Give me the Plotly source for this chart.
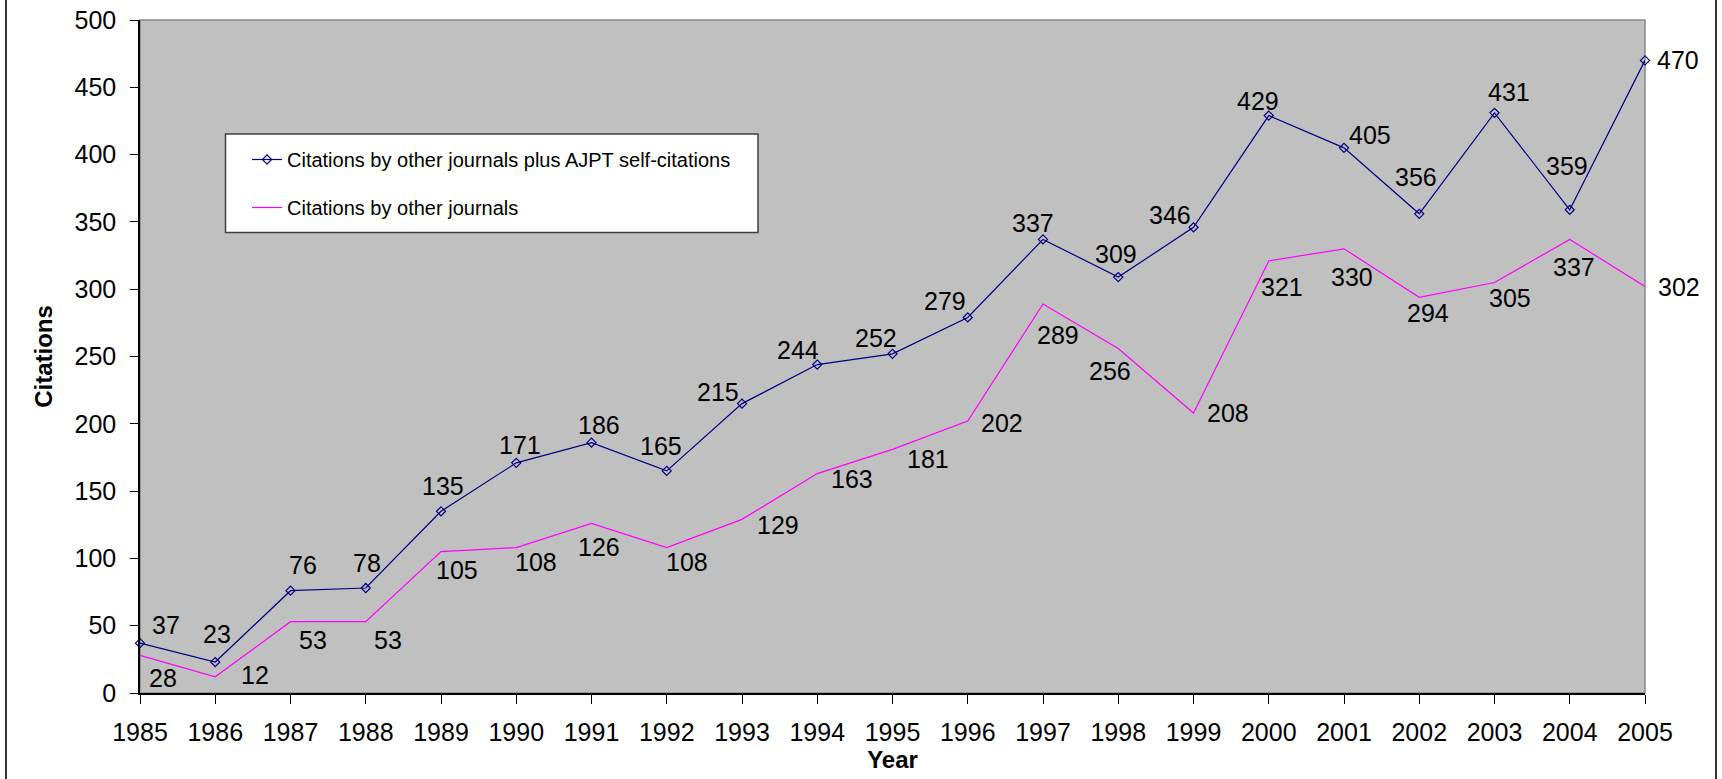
import plotly.graph_objects as go

years = list(range(1985, 2006))
total_citations = [37, 23, 76, 78, 135, 171, 186, 165, 215, 244, 252, 279, 337, 309, 346,
                   429, 405, 356, 431, 359, 470]
other_citations = [28, 12, 53, 53, 105, 108, 126, 108, 129, 163, 181, 202, 289, 256, 208,
                   321, 330, 294, 305, 337, 302]
series_names = ["Citations by other journals plus AJPT self-citations",
                "Citations by other journals"]
y_ticks = list(range(0, 501, 50))

# label offsets in pixels (dx right, dy up) -- styling only
total_label_dx = [26, 2, 12, 1, 2, 4, 7, -6, -24, -19, -17, -23, -10, -2, -24, -11, 26, -3, 14, -3, 33]
total_label_dy = [18, 28, 26, 25, 25, 18, 18, 25, 12, 15, 16, 16, 16, 23, 12, 15, 13, 37, 21, 44, 0]
other_label_dx = [23, 40, 22, 22, 16, 20, 7, 20, 36, 35, 35, 34, 15, -8, 34, 13, 8, 9, 15, 4, 34]
other_label_dy = [-23, 2, -18, -18, -18, -14, -24, -14, -6, -5, -10, -2, -31, -23, 0, -26, -28, -16, -16, -28, 0]

FONT = "Liberation Sans, Arial, sans-serif"
BLUE = "#000080"
MAGENTA = "#FF00FF"

fig = go.Figure()
fig.add_trace(go.Scatter(
    x=years, y=total_citations, name=series_names[0], mode="lines+markers",
    line=dict(color=BLUE, width=1.2),
    marker=dict(symbol="diamond-open", size=7, color=BLUE, line=dict(width=1.2, color=BLUE)),
    legendgroup="a", cliponaxis=False,
))
fig.add_trace(go.Scatter(
    x=years, y=other_citations, name=series_names[1], mode="lines",
    line=dict(color=MAGENTA, width=1.2),
    legendgroup="b", cliponaxis=False,
))

annotations = []
for xs, ys, dxs, dys in [(years, total_citations, total_label_dx, total_label_dy),
                         (years, other_citations, other_label_dx, other_label_dy)]:
    for x, y, dx, dy in zip(xs, ys, dxs, dys):
        annotations.append(dict(
            x=x, y=y, xref="x", yref="y", text=str(y), showarrow=False,
            xanchor="center", yanchor="middle", xshift=dx, yshift=dy,
            font=dict(family=FONT, size=25, color="black"),
        ))

L, R, T, B = 140, 77, 20, 86
W, H = 1722, 779
pw, ph = W - L - R, H - T - B

def px2paper_x(px):
    return (px - L) / pw

def px2paper_y(py):
    return (H - B - py) / ph

shapes = [
    # plot area frame (top/right grey)
    dict(type="rect", xref="paper", yref="paper", x0=0, y0=0, x1=1, y1=1,
         line=dict(color="#888888", width=1.5), layer="below"),
    # legend box
    dict(type="rect", xref="paper", yref="paper",
         x0=px2paper_x(225.5), x1=px2paper_x(758), y0=px2paper_y(232.5), y1=px2paper_y(134),
         fillcolor="white", line=dict(color="#404040", width=1.5), layer="above"),
    # outer frame lines
    dict(type="line", xref="paper", yref="paper",
         x0=px2paper_x(6), x1=px2paper_x(6), y0=px2paper_y(0), y1=px2paper_y(779),
         line=dict(color="#333333", width=2)),
    dict(type="line", xref="paper", yref="paper",
         x0=px2paper_x(1716), x1=px2paper_x(1716), y0=px2paper_y(0), y1=px2paper_y(779),
         line=dict(color="#333333", width=2)),
]

fig.update_layout(
    width=W, height=H,
    margin=dict(l=L, r=R, t=T, b=B, autoexpand=False),
    paper_bgcolor="white", plot_bgcolor="#C0C0C0",
    font=dict(family=FONT, size=25, color="black"),
    showlegend=True,
    legend=dict(
        x=px2paper_x(247), y=px2paper_y(140), xanchor="left", yanchor="top",
        bgcolor="rgba(0,0,0,0)", borderwidth=0,
        font=dict(family=FONT, size=20, color="black"),
        tracegroupgap=19, traceorder="grouped",
    ),
    annotations=annotations,
    shapes=shapes,
    xaxis=dict(
        range=[1985, 2005], tickmode="array", tickvals=years, ticktext=[str(y) for y in years],
        showgrid=False, zeroline=False, showline=True, linecolor="black", linewidth=1.5,
        ticks="outside", ticklen=9, tickcolor="black", tickwidth=1,
        tickfont=dict(family=FONT, size=25, color="black"), ticklabelstandoff=7,
        title=dict(text="<b>Year</b>", font=dict(family=FONT, size=24, color="black"), standoff=0),
        automargin=False,
    ),
    yaxis=dict(
        range=[0, 500], tickmode="array", tickvals=y_ticks,
        showgrid=False, zeroline=False, showline=True, linecolor="black", linewidth=1.5,
        ticks="outside", ticklen=8, tickcolor="black", tickwidth=1,
        tickfont=dict(family=FONT, size=25, color="black"), ticklabelstandoff=9,
        title=dict(text="<b>Citations</b>", font=dict(family=FONT, size=24, color="black"), standoff=15),
        automargin=False,
    ),
)

fig.write_html("out.html", config={"displayModeBar": False},
               post_script="document.body.style.margin='0';document.body.style.overflow='hidden';")
